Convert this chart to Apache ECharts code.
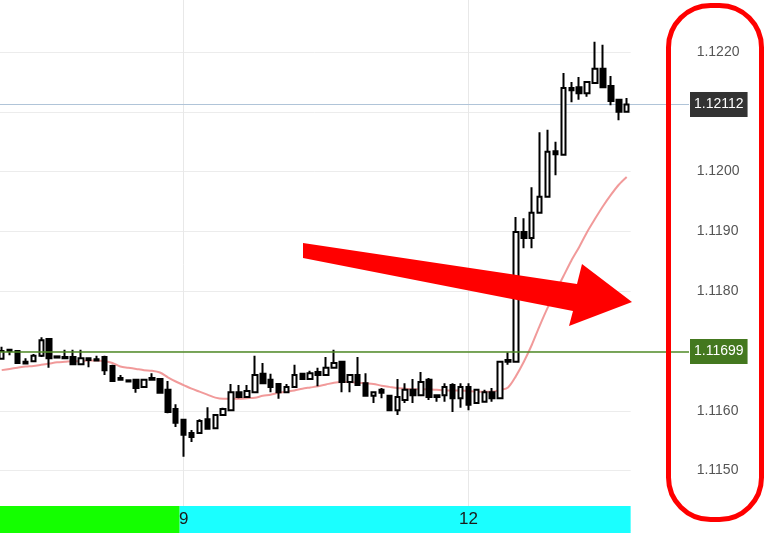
<!DOCTYPE html>
<html><head><meta charset="utf-8">
<script src="https://cdn.jsdelivr.net/npm/echarts@6/dist/echarts.min.js"></script>
<style>html,body{margin:0;padding:0;background:#fff}#c{width:767px;height:533px}</style>
</head><body><div id="c"></div>
<script>
// ---- data ----
const opens = [
1.11687,1.11700,1.11700,1.11682,1.11683,1.11692,1.11720,1.11691,1.11690,1.11690,
1.11678,1.11688,1.11686,1.11690,1.11675,1.11655,1.11651,1.11652,1.11640,1.11655,
1.11653,1.11635,1.11603,1.11585,1.11563,1.11563,1.11586,1.11571,1.11593,1.11601,
1.11631,1.11623,1.11631,1.11662,1.11652,1.11645,1.11631,1.11640,1.11662,1.11653,
1.11665,1.11660,1.11672,1.11682,1.11648,1.11660,1.11646,1.11625,1.11635,1.11625,
1.11601,1.11618,1.11635,1.11626,1.11652,1.11626,1.11626,1.11643,1.11621,1.11640,
1.11613,1.11615,1.11631,1.11621,1.11685,1.11682,1.11899,1.11889,1.11931,1.11958,
1.12034,1.12028,1.12140,1.12141,1.12131,1.12148,1.12172,1.12143,1.12120,1.12100];
const closes = [
1.11700,1.11702,1.11680,1.11679,1.11692,1.11718,1.11688,1.11689,1.11688,1.11678,
1.11688,1.11685,1.11684,1.11668,1.11650,1.11652,1.11649,1.11638,1.11652,1.11652,
1.11630,1.11598,1.11580,1.11560,1.11556,1.11583,1.11570,1.11593,1.11603,1.11631,
1.11623,1.11633,1.11660,1.11646,1.11640,1.11631,1.11640,1.11660,1.11653,1.11663,
1.11660,1.11672,1.11680,1.11648,1.11660,1.11643,1.11625,1.11631,1.11630,1.11601,
1.11623,1.11635,1.11626,1.11648,1.11623,1.11623,1.11640,1.11621,1.11640,1.11610,
1.11635,1.11631,1.11621,1.11682,1.11682,1.11899,1.11889,1.11931,1.11958,1.12033,
1.12029,1.12140,1.12136,1.12131,1.12150,1.12172,1.12141,1.12118,1.12100,1.12112];
const lows = [
1.11687,1.11693,1.11680,1.11679,1.11683,1.11690,1.11672,1.11689,1.11688,1.11678,
1.11678,1.11673,1.11684,1.11660,1.11650,1.11652,1.11649,1.11630,1.11640,1.11652,
1.11630,1.11596,1.11573,1.11523,1.11548,1.11563,1.11570,1.11571,1.11593,1.11601,
1.11621,1.11623,1.11631,1.11646,1.11631,1.11620,1.11631,1.11640,1.11653,1.11653,
1.11641,1.11660,1.11672,1.11631,1.11631,1.11643,1.11625,1.11613,1.11621,1.11601,
1.11593,1.11613,1.11613,1.11626,1.11618,1.11615,1.11615,1.11598,1.11605,1.11601,
1.11613,1.11615,1.11615,1.11621,1.11677,1.11682,1.11872,1.11872,1.11931,1.11958,
1.11994,1.12028,1.12116,1.12120,1.12125,1.12148,1.12141,1.12111,1.12086,1.12100];
const highs = [
1.11707,1.11702,1.11700,1.11688,1.11695,1.11723,1.11720,1.11691,1.11702,1.11702,
1.11702,1.11688,1.11692,1.11692,1.11677,1.11660,1.11651,1.11652,1.11652,1.11663,
1.11653,1.11650,1.11611,1.11585,1.11568,1.11586,1.11606,1.11593,1.11605,1.11645,
1.11643,1.11643,1.11692,1.11680,1.11662,1.11645,1.11645,1.11677,1.11663,1.11667,
1.11672,1.11690,1.11702,1.11682,1.11660,1.11690,1.11663,1.11631,1.11638,1.11625,
1.11653,1.11646,1.11653,1.11665,1.11655,1.11626,1.11646,1.11646,1.11646,1.11646,
1.11635,1.11635,1.11638,1.11682,1.11698,1.11924,1.11922,1.11974,1.12066,1.12070,
1.12050,1.12165,1.12150,1.12158,1.12150,1.12217,1.12212,1.12160,1.12120,1.12123];
const maValues = [
1.11668,1.11670,1.11672,1.11674,1.11675,1.11677,1.11679,1.11681,1.11682,1.11683,
1.11683,1.11684,1.11684,1.11683,1.11680,1.11674,1.11672,1.11670,1.11668,1.11667,
1.11664,1.11656,1.11649,1.11643,1.11637,1.11632,1.11627,1.11622,1.11620,1.11620,
1.11620,1.11621,1.11622,1.11625,1.11627,1.11630,1.11632,1.11634,1.11637,1.11639,
1.11641,1.11644,1.11647,1.11648,1.11648,1.11647,1.11646,1.11645,1.11642,1.11640,
1.11638,1.11637,1.11636,1.11636,1.11636,1.11635,1.11634,1.11634,1.11634,1.11633,
1.11632,1.11632,1.11632,1.11635,1.11639,1.11658,1.11682,1.11710,1.11742,1.11772,
1.11799,1.11825,1.11851,1.11874,1.11899,1.11921,1.11942,1.11961,1.11978,1.11991];
const dayTickIndex = [23, 59];
const dayTickText = ['9', '12'];
const sessionRanges = [[0, 22], [23, 79]];
const sessionColors = ['#14ff00', '#1affff'];
const currentPrice = 1.12112;
const levelPrice = 1.11699;
const yMin = 1.1140, yMax = 1.1230, yStep = 0.001;
const hiddenYLabels = [1.1140, 1.1170, 1.1210, 1.1230];

// ---- build ----
const categories = opens.map((_, i) => 'b' + i);
const candleData = opens.map((o, i) => [o, closes[i], lows[i], highs[i]]);
const FONT = 'Liberation Sans, Arial, Helvetica, sans-serif';
const gridLeft = -2.26, gridWidth = 632.9;

const chart = echarts.init(document.getElementById('c'));
function priceLineSeries(price, lineColor, lineWidth, boxColor, zLevel) {
  return {
    type: 'line', xAxisIndex: 0, yAxisIndex: 0, data: [], z: zLevel, clip: false, symbol: 'none',
    markLine: {
      z: zLevel,
      silent: true, symbol: ['none', 'none'], animation: false,
      lineStyle: {color: lineColor, width: lineWidth, type: 'solid', opacity: 1},
      label: {show: true, position: 'end', distance: 1, formatter: price.toFixed(5),
        color: '#fff', backgroundColor: boxColor, padding: [6, 4, 5, 4],
        fontSize: 14, fontFamily: FONT},
      data: [[
        {coord: [categories[0], price], x: 0},
        {coord: [categories[categories.length - 1], price], x: 689}
      ]]
    }
  };
}
const option = {
  animation: false,
  grid: [
    {left: gridLeft, width: gridWidth, top: -7.8, height: 538.2, outerBoundsMode: 'none', containLabel: false},
    {left: gridLeft, width: gridWidth, top: 506, height: 27, outerBoundsMode: 'none', containLabel: false}
  ],
  xAxis: [
    {gridIndex: 0, type: 'category', data: categories, boundaryGap: true,
     axisLine: {show: false}, axisTick: {show: false}, axisLabel: {show: false}, splitLine: {show: false}},
    {gridIndex: 1, type: 'category', data: categories, boundaryGap: true, position: 'top', z: 20,
     axisLine: {show: false}, axisTick: {show: false}, splitLine: {show: false},
     axisLabel: {inside: true, interval: 0, margin: 5, fontSize: 17, color: '#1a1a1a', fontFamily: FONT,
       formatter: (v, i) => { const k = dayTickIndex.indexOf(i); return k >= 0 ? dayTickText[k] : ''; }}}
  ],
  yAxis: [
    {gridIndex: 0, type: 'value', position: 'right', min: yMin, max: yMax, interval: yStep, scale: true,
     axisLine: {show: false}, axisTick: {show: false},
     splitLine: {show: true, lineStyle: {color: '#ececec', width: 1}},
     axisLabel: {margin: 66, color: '#555', fontSize: 14, fontFamily: FONT,
       formatter: v => hiddenYLabels.some(h => Math.abs(h - v) < 1e-7) ? '' : v.toFixed(4)}},
    {gridIndex: 1, type: 'value', min: 0, max: 1, show: false}
  ],
  series: [
    {type: 'line', name: 'MA', xAxisIndex: 0, yAxisIndex: 0, data: maValues, z: 1,
     smooth: 0.3, symbol: 'none', clip: false,
     lineStyle: {color: '#ef8888', width: 2, opacity: 0.85},
     markLine: {z: 0, silent: true, symbol: ['none', 'none'], animation: false,
       label: {show: false},
       lineStyle: {color: '#e8e8e8', width: 1, type: 'solid'},
       data: dayTickIndex.map(i => ({xAxis: categories[i]}))}},
    {type: 'candlestick', xAxisIndex: 0, yAxisIndex: 0, data: candleData, z: 2, barWidth: 5,
     itemStyle: {color: '#ffffff', color0: '#000000', borderColor: '#000000', borderColor0: '#000000', borderWidth: 2}},
    priceLineSeries(currentPrice, '#b0c4d8', 1.2, '#333333', 1),
    priceLineSeries(levelPrice, '#4f8a26', 1.5, '#44781f', 5),
    {type: 'custom', xAxisIndex: 1, yAxisIndex: 1, z: 0,
     data: sessionRanges.map((r, i) => [r[0], r[1], i]),
     encode: {x: [0, 1], y: 2},
     renderItem: (params, api) => {
       const s = api.value(0), e = api.value(1);
       const p0 = api.coord([s, 0]), p1 = api.coord([e, 1]);
       const w = api.size([1, 0])[0];
       return {type: 'rect', shape: {x: p0[0] - w / 2, y: p1[1], width: p1[0] - p0[0] + w, height: p0[1] - p1[1]},
               style: {fill: sessionColors[api.value(2)]}};
     }}
  ],
  graphic: [
    {type: 'rect', z: 100, shape: {x: 668.5, y: 5.5, width: 93, height: 514, r: 42},
     style: {fill: 'none', stroke: '#ff0000', lineWidth: 5}},
    {type: 'polygon', z: 100,
     shape: {points: [[303, 243], [577, 284], [582, 264], [632, 302], [569, 326], [573, 311], [303, 258]]},
     style: {fill: '#ff0000'}}
  ]
};
chart.setOption(option);
</script></body></html>
